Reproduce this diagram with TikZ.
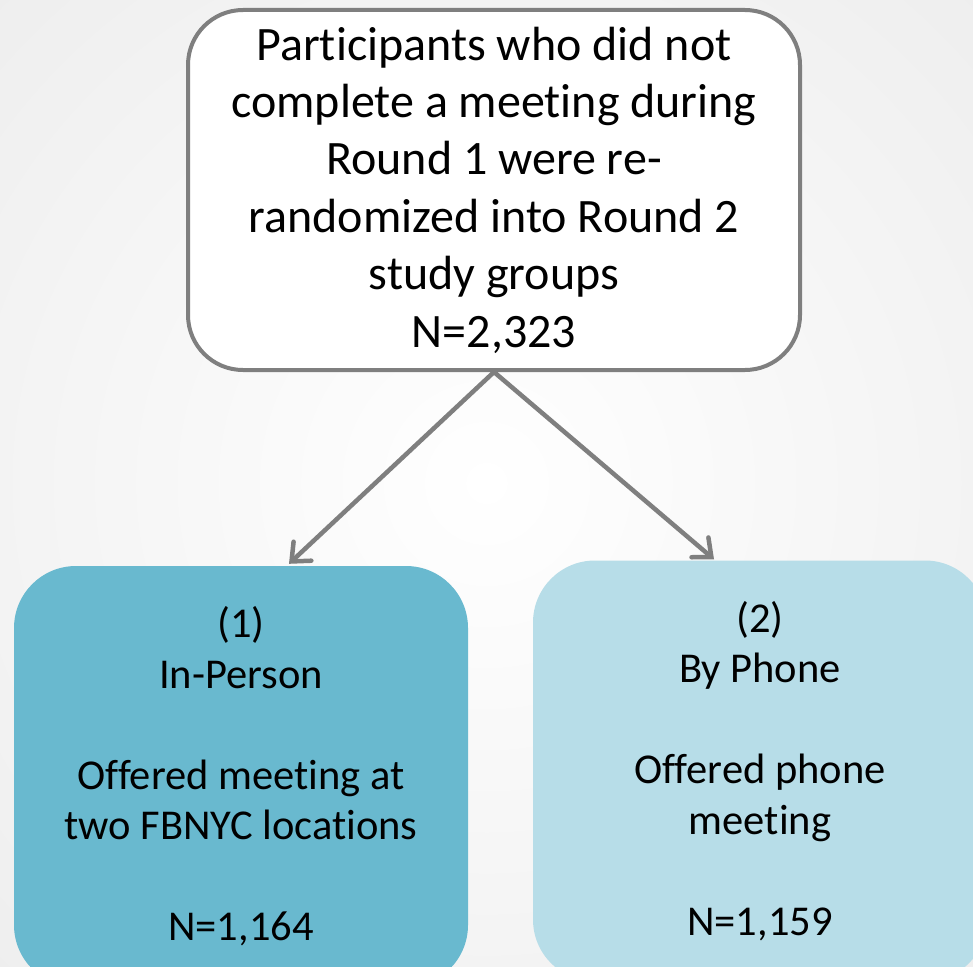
\documentclass[tikz,border=0pt]{standalone}
\usepackage{fontspec}
\setmainfont{Carlito}[Ligatures=NoCommon]
\usetikzlibrary{arrows.meta,calc}
\definecolor{edgegray}{HTML}{7F7F7F}
\definecolor{tealfill}{HTML}{69B9CF}
\definecolor{palefill}{HTML}{B7DDE8}
\tikzset{
  topbox/.style={draw=edgegray, line width=4pt, fill=white, rounded corners=55pt,
    minimum width=612pt, minimum height=360pt, align=center, inner sep=0pt,
    font=\fontsize{48}{57.4}\selectfont},
  groupbox/.style={rounded corners=62pt, minimum width=454pt, minimum height=421pt,
    align=center, inner sep=0pt, font=\fontsize{42.5}{50.5}\selectfont},
  flow/.style={draw=edgegray, line width=4.5pt, line cap=round,
    -{Straight Barb[length=15pt,width=26pt,line cap=round]}}
}
\begin{document}
\begin{tikzpicture}[x=1pt,y=-1pt]
  \useasboundingbox (0,0) rectangle (973,966);
  \clip (0,0) rectangle (973,966);
  % faint backdrop
  \shade[inner color=white, outer color=black!7] (-250,-250) rectangle (1223,1216);

  \node[topbox] (top) at (494,190)
    {Participants who did not\\complete a meeting during\\Round 1 were re-\\randomized into Round 2\\study groups\\N=2,323};

  \node[groupbox, fill=tealfill] (inperson) at (241,776.5)
    {(1)\\In-Person\\[50.5pt]Offered meeting at\\two FBNYC locations\\[50.5pt]N=1,164};
  \node[groupbox, fill=palefill] (phone) at (760,771)
    {(2)\\By Phone\\[50.5pt]Offered phone\\meeting\\[50.5pt]N=1,159};

  \coordinate (split) at (top.south);
  \coordinate (tipL) at ($(inperson.north)+(48,-2)$);
  \coordinate (tipR) at ($(phone.north)+(-46,-1)$);
  \draw[flow] (split) -- (tipL);
  \draw[flow] (split) -- (tipR);
\end{tikzpicture}
\end{document}
